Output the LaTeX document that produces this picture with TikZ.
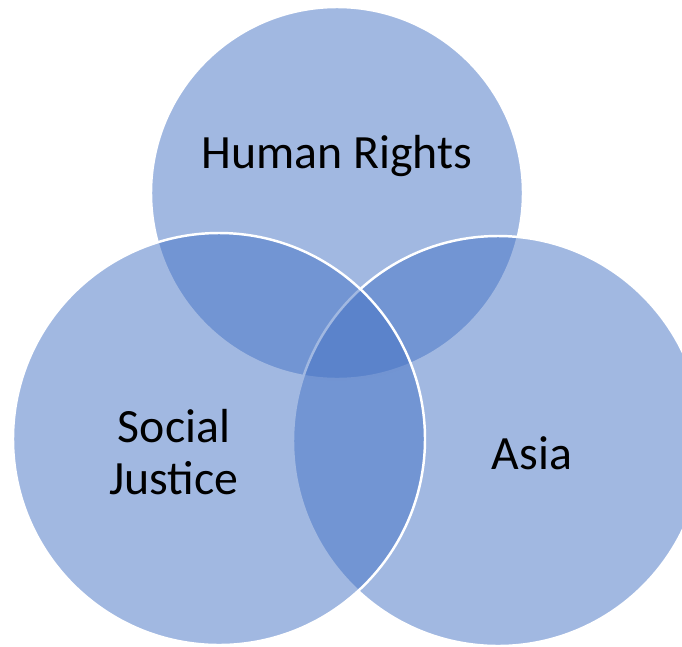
\documentclass[tikz,border=0pt]{standalone}
\usepackage{fontspec}
\setmainfont{Carlito}
\definecolor{vennblue}{HTML}{4472C4}
\tikzset{
  venn/.style={fill=vennblue,fill opacity=.5,draw=white,line width=1.4pt},
  label/.style={font=\fontsize{27.2}{29.5}\selectfont,text=black,align=center,inner sep=0pt}
}
\begin{document}
\begin{tikzpicture}[x=0.02cm,y=-0.02cm]

      \useasboundingbox (0,0) rectangle (682,646);
      \clip (0,0) rectangle (682,646);

      \begin{scope}[every path/.style={venn}]
        \path (337,193) circle[radius=186];
        \path (498,441) circle[radius=205];
        \path (219,439) circle[radius=206];
      \end{scope}

      \begin{scope}[every node/.style={label}]
        \node[anchor=base] (rights)  at (337,168) {Human Rights};
        \node              (justice) at (174,452) {Social\\Justice};
        \node[anchor=base] (asia)    at (532,469) {Asia};
      \end{scope}

    \end{tikzpicture}
\end{document}
